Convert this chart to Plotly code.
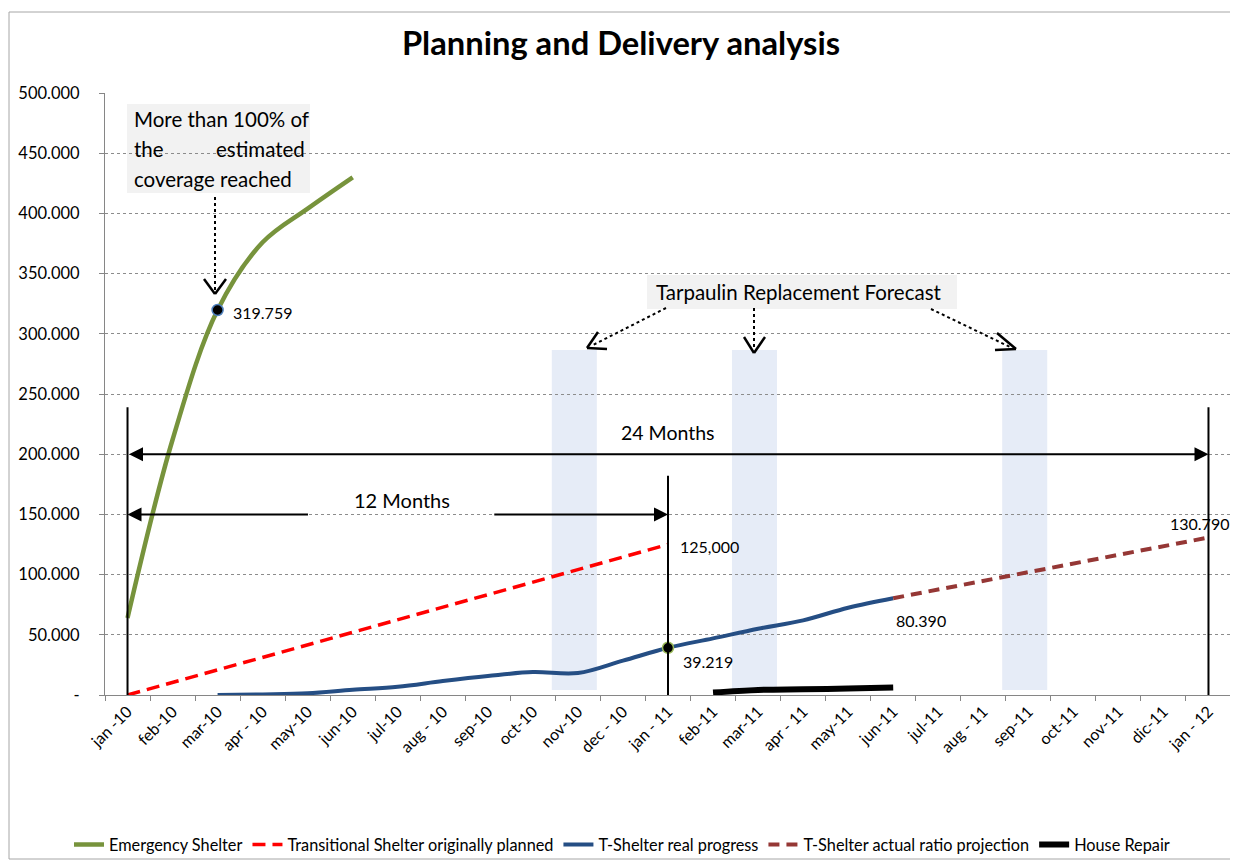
import plotly.graph_objects as go

# ---------------- data ----------------
months = ["jan -10", "feb-10", "mar-10", "apr - 10", "may-10", "jun-10", "jul-10",
          "aug - 10", "sep-10", "oct-10", "nov-10", "dec - 10", "jan - 11", "feb-11",
          "mar-11", "apr - 11", "may-11", "jun-11", "jul-11", "aug - 11", "sep-11",
          "oct-11", "nov-11", "dic-11", "jan - 12"]

emergency_shelter = [64000, 212000, 319759, 376000, 404000, 430000]          # jan-10 .. jun-10
planned_tshelter = [0, 10417, 20833, 31250, 41667, 52083, 62500, 72917,
                    83333, 93750, 104167, 114583, 125000]                    # jan-10 .. jan-11
real_progress = [0, 500, 1400, 4300, 6800, 11600, 15800, 19000, 18200,
                 28500, 39219, 47000, 55000, 62000, 72500, 80390]            # mar-10 .. jun-11
ratio_projection = [80390, 87590, 94790, 101990, 109190, 116390, 123590, 130790]  # jun-11 .. jan-12
house_repair = [2000, 4200, 4700, 5300, 6200]                               # feb-11 .. jun-11

highlight_x = ["mar-10", "jan - 11"]
highlight_y = [319759, 39219]

y_tickvals = [0, 50000, 100000, 150000, 200000, 250000, 300000, 350000, 400000, 450000, 500000]
y_ticktext = ["-", "50.000", "100.000", "150.000", "200.000", "250.000", "300.000",
              "350.000", "400.000", "450.000", "500.000"]

FONT = "Lato, Carlito, Calibri, sans-serif"

# page offset (default body margin) and plot area in screen pixels
OFF = 8
SL, SR, ST, SB = 105, 1231, 93, 695
W, H = 1238 - OFF, 861 - OFF
L, R, T, B = SL - OFF, SR - OFF, ST - OFF, SB - OFF


def P(px, py):
    """screen pixel -> paper coordinates"""
    return (px - SL) / (SR - SL), (SB - py) / (SB - ST)


fig = go.Figure()

fig.add_trace(go.Scatter(x=months[0:6], y=emergency_shelter, mode="lines",
                         name="Emergency Shelter", line=dict(color="#77933C", width=4.5, shape="spline")))
fig.add_trace(go.Scatter(x=months[0:13], y=planned_tshelter, mode="lines",
                         name="Transitional Shelter originally planned",
                         line=dict(color="#FF0000", width=3.5, dash="13px,7px")))
fig.add_trace(go.Scatter(x=months[2:18], y=real_progress, mode="lines",
                         name="T-Shelter real progress", line=dict(color="#254E84", width=4, shape="spline")))
fig.add_trace(go.Scatter(x=months[17:25], y=ratio_projection, mode="lines",
                         name="T-Shelter actual ratio projection",
                         line=dict(color="#953735", width=4, dash="11px,7px")))
fig.add_trace(go.Scatter(x=months[13:18], y=house_repair, mode="lines",
                         name="House Repair", line=dict(color="#000000", width=6, shape="spline")))
fig.add_trace(go.Scatter(x=highlight_x, y=highlight_y, mode="markers", showlegend=False,
                         marker=dict(color="#000000", size=11,
                                     line=dict(color=["#4F81BD", "#9BBB59"], width=1.5))))

shapes = []
# outer chart border
x0, y0 = P(9, 859)
x1, y1 = P(1232, 12)
shapes.append(dict(type="rect", xref="paper", yref="paper", x0=x0, y0=y0, x1=x1, y1=y1,
                   line=dict(color="#A6A6A6", width=1), fillcolor="rgba(0,0,0,0)", layer="below"))
# tarpaulin forecast bands
for xa, xb in [(9.42, 10.42), (13.42, 14.42), (19.42, 20.42)]:
    shapes.append(dict(type="rect", xref="x", yref="y", x0=xa, x1=xb, y0=4200, y1=286500,
                       line=dict(width=0), fillcolor="#E6ECF7", layer="below"))
# vertical reference lines
for xv, ytop in [(0, 239000), (12, 182000), (24, 239000)]:
    shapes.append(dict(type="line", xref="x", yref="y", x0=xv, x1=xv, y0=0, y1=ytop,
                       line=dict(color="#000000", width=2)))
# text box backgrounds
for (ax_, ay_), (bx_, by_) in [((127, 193), (310, 104)), ((647, 309), (957, 275))]:
    a = P(ax_, ay_)
    b = P(bx_, by_)
    shapes.append(dict(type="rect", xref="paper", yref="paper", x0=a[0], y0=a[1], x1=b[0], y1=b[1],
                       line=dict(width=0), fillcolor="#F2F2F2", layer="below"))
# dotted callout lines
for (p1, p2) in [((215, 197), (215, 290)), ((666, 308), (593, 345)),
                 ((754, 308), (754, 350)), ((931, 309), (1010, 347))]:
    a = P(*p1)
    b = P(*p2)
    shapes.append(dict(type="line", xref="paper", yref="paper", x0=a[0], y0=a[1], x1=b[0], y1=b[1],
                       line=dict(color="#000000", width=2, dash="dot")))
# open arrow heads
for tip, arms in [((215, 294), [(204, 279), (226, 279)]),
                  ((587, 348), [(598, 332), (607, 349)]),
                  ((754, 353), [(744, 337), (765, 337)]),
                  ((1016, 349), [(997, 333), (995, 350)])]:
    t = P(*tip)
    for arm in arms:
        a = P(*arm)
        shapes.append(dict(type="line", xref="paper", yref="paper", x0=a[0], y0=a[1], x1=t[0], y1=t[1],
                           line=dict(color="#000000", width=2.5)))

ann = []
# 24 month arrow (both ends)
ann.append(dict(x=24, y=200000, ax=0, ay=200000, xref="x", yref="y", axref="x", ayref="y",
                text="", showarrow=True, arrowhead=2, startarrowhead=2, arrowside="end+start",
                arrowwidth=2, arrowsize=1.4, startarrowsize=1.4, arrowcolor="#000000", standoff=0,
                startstandoff=0))
# 12 month arrow (split by the label)
ann.append(dict(x=0, y=150000, ax=4.04, ay=150000, xref="x", yref="y", axref="x", ayref="y",
                text="", showarrow=True, arrowhead=2, arrowwidth=2, arrowsize=1.4,
                arrowcolor="#000000", standoff=0))
ann.append(dict(x=12, y=150000, ax=8.11, ay=150000, xref="x", yref="y", axref="x", ayref="y",
                text="", showarrow=True, arrowhead=2, arrowwidth=2, arrowsize=1.4,
                arrowcolor="#000000", standoff=0))
ann.append(dict(x=12, y=218400, xref="x", yref="y", text="24 Months", showarrow=False,
                font=dict(family=FONT, size=19.5, color="#000000")))
ann.append(dict(x=6.09, y=162000, xref="x", yref="y", text="12 Months", showarrow=False,
                font=dict(family=FONT, size=20, color="#000000")))

# data labels
lab_font = dict(family=FONT, size=16, color="#000000")
ann.append(dict(x=months[2], y=highlight_y[0], xref="x", yref="y", text="319.759", showarrow=False,
                xanchor="left", xshift=13, yshift=-2, font=lab_font))
ann.append(dict(x=months[12], y=highlight_y[1], xref="x", yref="y", text="39.219", showarrow=False,
                xanchor="left", xshift=13, yshift=-14, font=lab_font))
ann.append(dict(x=months[12], y=planned_tshelter[-1], xref="x", yref="y", text="125,000", showarrow=False,
                xanchor="left", xshift=10, yshift=-2, font=lab_font))
ann.append(dict(x=months[17], y=real_progress[-1], xref="x", yref="y", text="80.390", showarrow=False,
                xanchor="left", xshift=1, yshift=-22, font=lab_font))
ann.append(dict(x=months[24], y=ratio_projection[-1], xref="x", yref="y", text="130.790", showarrow=False,
                xanchor="center", xshift=-9, yshift=14, font=lab_font))

# text boxes
box_font = dict(family=FONT, size=20.5, color="#000000")
for txt, px, py, anc in [("More than 100% of", 132, 119, "left"), ("the", 132, 149, "left"),
                         ("estimated", 307, 149, "right"), ("coverage reached", 132, 179, "left")]:
    a = P(px, py)
    ann.append(dict(x=a[0], y=a[1], xref="paper", yref="paper", text=txt, showarrow=False,
                    xanchor=anc, yanchor="middle", font=box_font))
a = P(799, 292)
ann.append(dict(x=a[0], y=a[1], xref="paper", yref="paper", text="Tarpaulin Replacement Forecast",
                showarrow=False, xanchor="center", yanchor="middle", font=box_font))

fig.update_layout(
    width=W, height=H,
    margin=dict(l=L, r=W - R, t=T, b=H - B, autoexpand=False),
    paper_bgcolor="#FFFFFF", plot_bgcolor="#FFFFFF",
    title=dict(text="<b>Planning and Delivery analysis</b>", x=(621 - OFF) / W, xref="container",
               xanchor="center", y=1 - (44 - OFF) / H, yanchor="middle",
               font=dict(family=FONT, size=32.7, color="#000000")),
    font=dict(family=FONT, color="#000000"),
    showlegend=True,
    legend=dict(orientation="h", x=P(622, 0)[0], xanchor="center", y=P(0, 845)[1], yanchor="middle",
                font=dict(family=FONT, size=16.3, color="#000000"), itemwidth=30,
                bgcolor="rgba(0,0,0,0)", tracegroupgap=0),
    shapes=shapes,
    annotations=ann,
)

fig.update_xaxes(type="category", categoryorder="array", categoryarray=months,
                 range=[-0.5, 24.5], tickmode="array", tickvals=months, ticktext=months,
                 tickangle=-45, tickfont=dict(family=FONT, size=16, color="#000000"),
                 showgrid=False, showline=True, linecolor="#868686", linewidth=1,
                 ticks="outside", ticklen=5, tickcolor="#868686", tickson="boundaries",
                 zeroline=False, fixedrange=True)
fig.update_yaxes(range=[0, 500000], tickmode="array", tickvals=y_tickvals, ticktext=y_ticktext,
                 tickfont=dict(family=FONT, size=16.5, color="#000000"),
                 showgrid=True, gridcolor="#8C8C8C", gridwidth=1, griddash="dot",
                 showline=True, linecolor="#868686", linewidth=1,
                 ticks="outside", ticklen=5, tickcolor="#868686", ticklabelstandoff=16,
                 zeroline=False, fixedrange=True)

fig.write_html("out.html")
